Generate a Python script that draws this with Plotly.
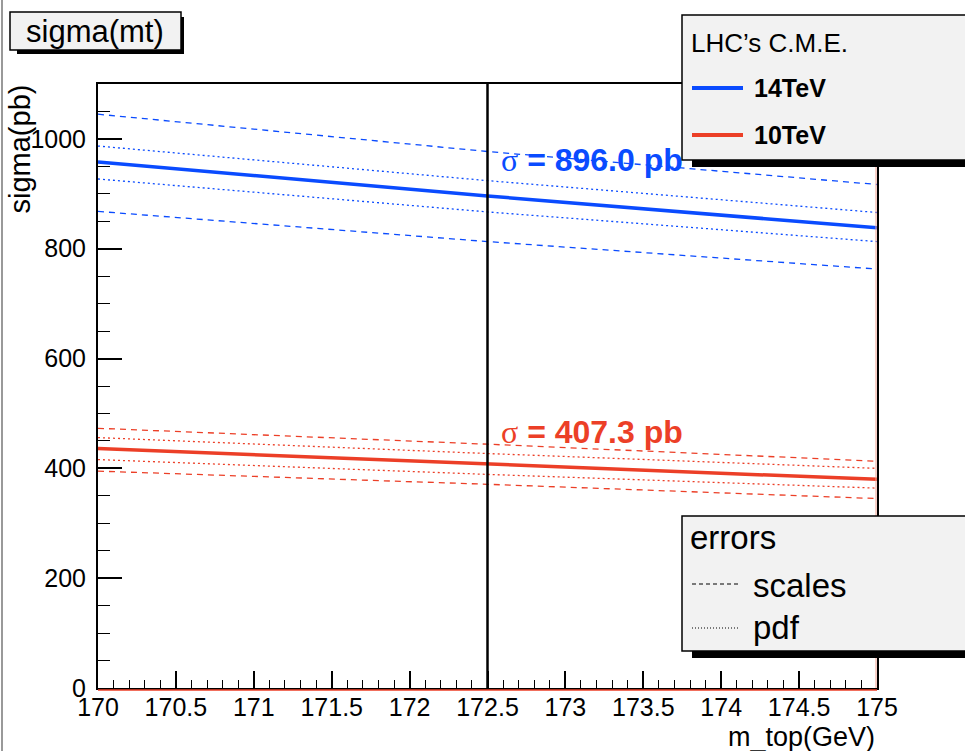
import plotly.graph_objects as go

# ---- data ----
mt = [170.0, 172.5, 175.0]

sig14 = [958.0, 896.0, 838.0]
sig14_scale_up = [1045.0, 977.0, 917.0]
sig14_scale_dn = [868.0, 813.0, 763.0]
sig14_pdf_up = [987.0, 924.0, 866.0]
sig14_pdf_dn = [927.0, 867.0, 813.0]

sig10 = [436.0, 407.3, 380.0]
sig10_scale_up = [473.0, 444.0, 413.0]
sig10_scale_dn = [395.0, 371.0, 345.0]
sig10_pdf_up = [456.0, 427.0, 400.0]
sig10_pdf_dn = [416.0, 389.0, 364.0]

mt_ref = 172.5
label14 = "896.0 pb"
label10 = "407.3 pb"

xticks = [170, 170.5, 171, 171.5, 172, 172.5, 173, 173.5, 174, 174.5, 175]
yticks = [0, 200, 400, 600, 800, 1000]

BLUE = "#0a4bff"
RED = "#ec3f27"
FONT = "Liberation Sans, Arial, sans-serif"

W, H = 965, 751
L, R, T, B = 98, 88, 84, 63
PW, PH = W - L - R, H - T - B


def px(x):
    return (x - L) / PW


def py(y):
    return (H - B - y) / PH


fig = go.Figure()


def add_line(x, y, color, width, dash):
    fig.add_trace(go.Scatter(x=x, y=y, mode="lines",
                             line=dict(color=color, width=width, dash=dash),
                             showlegend=False, hoverinfo="skip"))


DASH = "6px,5px"
DOT = "2px,3px"
for col, c, su, sd, pu, pdn in [
    (BLUE, sig14, sig14_scale_up, sig14_scale_dn, sig14_pdf_up, sig14_pdf_dn),
    (RED, sig10, sig10_scale_up, sig10_scale_dn, sig10_pdf_up, sig10_pdf_dn),
]:
    add_line(mt, su, col, 1.3, DASH)
    add_line(mt, sd, col, 1.3, DASH)
    add_line(mt, pu, col, 1.3, DOT)
    add_line(mt, pdn, col, 1.3, DOT)
    add_line(mt, c, col, 3.5, "solid")

shapes = []
# vertical reference line
shapes.append(dict(type="line", xref="x", yref="paper", x0=mt_ref, x1=mt_ref,
                   y0=0, y1=1, line=dict(color="black", width=2.5)))
# red line along bottom
shapes.append(dict(type="line", xref="paper", yref="paper", x0=0, x1=1,
                   y0=py(690), y1=py(690), line=dict(color=RED, width=1.5)))
shapes.append(dict(type="line", xref="paper", yref="paper", x0=px(876), x1=px(876),
                   y0=0, y1=1, line=dict(color="#f0a090", width=1)))
# canvas left border
shapes.append(dict(type="line", xref="paper", yref="paper", x0=px(2), x1=px(2),
                   y0=py(0), y1=py(751), line=dict(color="#777777", width=1.5)))


def box(x0, y0, x1, y1, shadow=5):
    shapes.append(dict(type="rect", xref="paper", yref="paper",
                       x0=px(x0 + shadow + 4), x1=px(x1 + shadow),
                       y0=py(y1 + shadow + 1), y1=py(y1 - 2),
                       fillcolor="black", line=dict(width=0), layer="above"))
    shapes.append(dict(type="rect", xref="paper", yref="paper",
                       x0=px(x1), x1=px(x1 + shadow),
                       y0=py(y1 + shadow + 1), y1=py(y0 + shadow + 2),
                       fillcolor="black", line=dict(width=0), layer="above"))
    shapes.append(dict(type="rect", xref="paper", yref="paper",
                       x0=px(x0), x1=px(x1), y0=py(y1), y1=py(y0),
                       fillcolor="#f2f2f2", line=dict(color="black", width=1.5),
                       layer="above"))


box(10, 12, 181, 50, shadow=3)
box(682, 15, 990, 160, shadow=6)
box(682, 516, 990, 651, shadow=6)

# legend line samples
shapes.append(dict(type="line", xref="paper", yref="paper", x0=px(692), x1=px(743),
                   y0=py(88), y1=py(88), line=dict(color=BLUE, width=4), layer="above"))
shapes.append(dict(type="line", xref="paper", yref="paper", x0=px(692), x1=px(743),
                   y0=py(135), y1=py(135), line=dict(color=RED, width=4), layer="above"))
shapes.append(dict(type="line", xref="paper", yref="paper", x0=px(692), x1=px(740),
                   y0=py(584), y1=py(584), line=dict(color="black", width=1, dash="4px,3px"),
                   layer="above"))
shapes.append(dict(type="line", xref="paper", yref="paper", x0=px(692), x1=px(740),
                   y0=py(628), y1=py(628), line=dict(color="black", width=1, dash="1px,2px"),
                   layer="above"))

ann = []


def text(x, y, s, size, color="black", xanchor="left", bold=False, **kw):
    if bold:
        s = "<b>" + s + "</b>"
    ann.append(dict(xref="paper", yref="paper", x=px(x), y=py(y), text=s,
                    showarrow=False, xanchor=xanchor, yanchor="middle",
                    font=dict(family=FONT, size=size, color=color), **kw))


text(24, 31, "sigma(mt)", 31)
text(689, 43, "LHC’s C.M.E.", 26)
text(752, 88, "14TeV", 25, bold=True)
text(752, 135, "10TeV", 25, bold=True)
text(688, 537, "errors", 33)
text(751, 585, "scales", 33)
text(751, 627, "pdf", 33)

sig = '<span style="font-family:Liberation Serif;font-weight:normal">σ</span>'
text(499, 160, sig + " <b>= " + label14 + "</b>", 32, color=BLUE)
text(499, 432, sig + " <b>= " + label10 + "</b>", 32, color=RED)

# axis titles
ann.append(dict(xref="paper", yref="paper", x=px(877), y=py(737), text="m_top(GeV)",
                showarrow=False, xanchor="right", yanchor="middle",
                font=dict(family=FONT, size=27, color="black")))
ann.append(dict(xref="paper", yref="paper", x=px(19), y=py(83), text="sigma(pb)",
                showarrow=False, xanchor="center", yanchor="top", textangle=-90,
                font=dict(family=FONT, size=29, color="black")))

fig.update_layout(
    width=W, height=H,
    margin=dict(l=L, r=R, t=T, b=B, pad=0),
    paper_bgcolor="white", plot_bgcolor="white",
    shapes=shapes, annotations=ann,
    xaxis=dict(range=[170, 175], tickvals=xticks,
               ticktext=[f"{v:g}" for v in xticks],
               ticks="inside", ticklen=17, tickwidth=1.5, tickcolor="black",
               minor=dict(dtick=0.1, ticks="inside", ticklen=8, tickwidth=1.2,
                          tickcolor="black", showgrid=False),
               showgrid=False, zeroline=False, showline=True, mirror=True,
               linecolor="black", linewidth=2, ticklabelstandoff=-4,
               tickfont=dict(family=FONT, size=25, color="black")),
    yaxis=dict(range=[0, 1100], tickvals=yticks,
               ticks="inside", ticklen=24, tickwidth=1.5, tickcolor="black",
               minor=dict(dtick=50, ticks="inside", ticklen=12, tickwidth=1.2,
                          tickcolor="black", showgrid=False),
               showgrid=False, zeroline=False, showline=True, mirror=True,
               linecolor="black", linewidth=2, ticklabelstandoff=5,
               tickfont=dict(family=FONT, size=25, color="black")),
)

fig.write_html("out.html", config={"displayModeBar": False},
               post_script="document.body.style.margin='0';document.body.style.padding='0';")
